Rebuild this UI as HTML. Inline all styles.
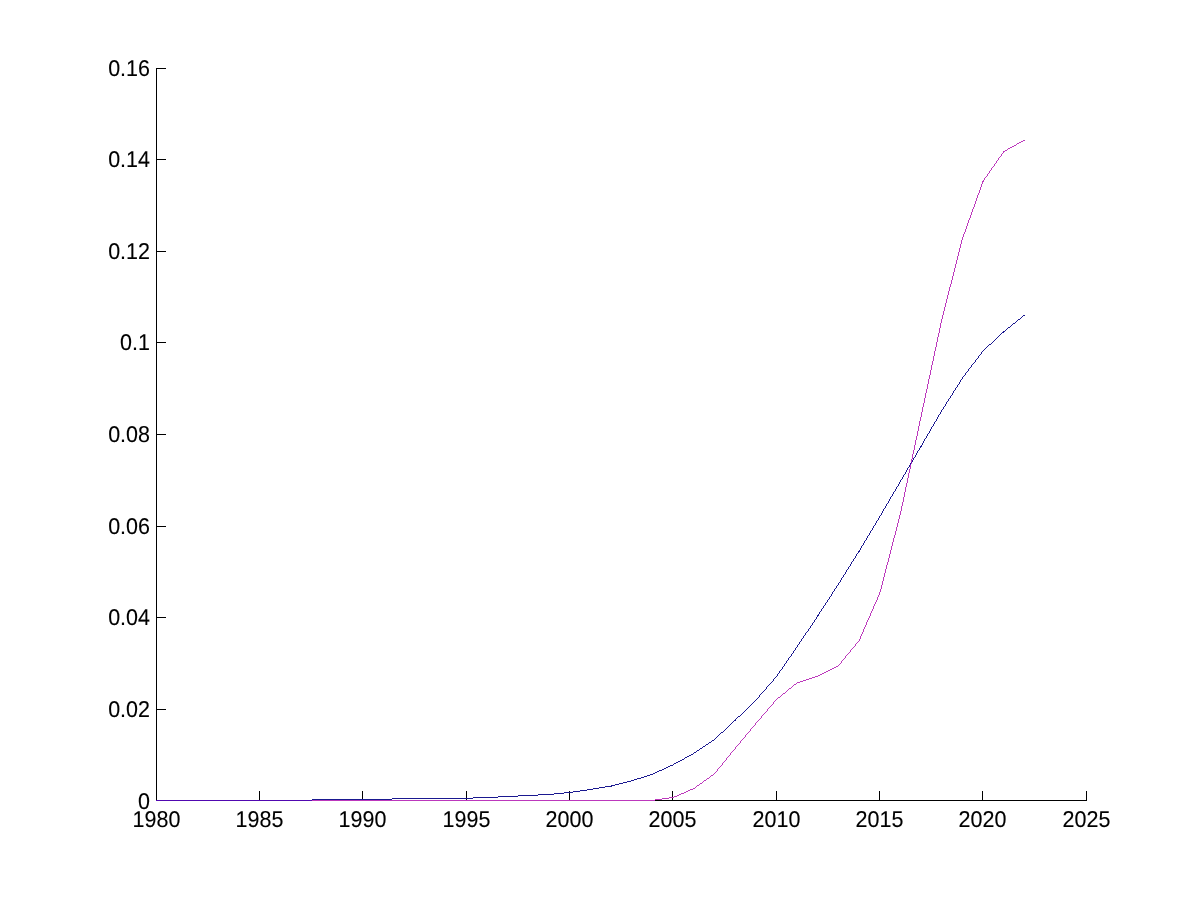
<!DOCTYPE html>
<html><head><meta charset="utf-8"><title>Plot</title>
<style>html,body{margin:0;padding:0;background:#fff;width:1200px;height:900px;overflow:hidden}svg{display:block;will-change:transform}</style>
</head><body>
<svg width="1200" height="900" viewBox="0 0 1200 900">
<rect width="1200" height="900" fill="#fff"/>
<g fill="#000" shape-rendering="crispEdges">
<rect x="156" y="68" width="1" height="733"/>
<rect x="156" y="800" width="931" height="1"/>
<rect x="157" y="800" width="9" height="1"/>
<rect x="157" y="709" width="9" height="1"/>
<rect x="157" y="617" width="9" height="1"/>
<rect x="157" y="526" width="9" height="1"/>
<rect x="157" y="434" width="9" height="1"/>
<rect x="157" y="342" width="9" height="1"/>
<rect x="157" y="251" width="9" height="1"/>
<rect x="157" y="159" width="9" height="1"/>
<rect x="157" y="68" width="9" height="1"/>
<rect x="156" y="791" width="1" height="9"/>
<rect x="259" y="791" width="1" height="9"/>
<rect x="362" y="791" width="1" height="9"/>
<rect x="466" y="791" width="1" height="9"/>
<rect x="569" y="791" width="1" height="9"/>
<rect x="672" y="791" width="1" height="9"/>
<rect x="776" y="791" width="1" height="9"/>
<rect x="879" y="791" width="1" height="9"/>
<rect x="982" y="791" width="1" height="9"/>
<rect x="1086" y="791" width="1" height="9"/>
</g>
<g shape-rendering="crispEdges">
<path fill="#1a1890" d="M1023 315h2v1h-2zM1022 316h1v1h-1zM1021 317h1v1h-1zM1020 318h1v1h-1zM1018 319h2v1h-2zM1017 320h1v1h-1zM1016 321h1v1h-1zM1015 322h1v1h-1zM1013 323h2v1h-2zM1012 324h1v1h-1zM1011 325h1v1h-1zM1010 326h1v1h-1zM1008 327h2v1h-2zM1007 328h1v1h-1zM1006 329h1v1h-1zM1005 330h1v1h-1zM1003 331h2v1h-2zM1002 332h2v1h-2zM1001 333h1v1h-1zM1000 334h1v1h-1zM999 335h1v1h-1zM998 336h1v1h-1zM997 337h1v1h-1zM996 338h1v1h-1zM995 339h1v1h-1zM994 340h1v1h-1zM993 341h1v1h-1zM992 342h1v1h-1zM991 343h1v1h-1zM989 344h2v1h-2zM988 345h1v1h-1zM987 346h1v1h-1zM986 347h1v1h-1zM985 348h1v1h-1zM984 349h1v1h-1zM983 350h1v1h-1zM982 351h1v1h-1zM981 352h1v1h-1zM981 353h1v1h-1zM980 354h1v1h-1zM979 355h1v1h-1zM978 356h1v1h-1zM978 357h1v1h-1zM977 358h1v1h-1zM976 359h1v1h-1zM975 360h1v1h-1zM975 361h1v1h-1zM974 362h1v1h-1zM973 363h1v1h-1zM972 364h1v1h-1zM971 365h1v1h-1zM971 366h1v1h-1zM970 367h1v1h-1zM969 368h1v1h-1zM968 369h1v1h-1zM968 370h1v1h-1zM967 371h1v1h-1zM966 372h1v1h-1zM965 373h1v1h-1zM965 374h1v1h-1zM964 375h1v1h-1zM963 376h1v1h-1zM962 377h1v1h-1zM962 378h1v1h-1zM961 379h1v1h-1zM960 380h1v1h-1zM960 381h1v1h-1zM959 382h1v1h-1zM959 383h1v1h-1zM958 384h1v1h-1zM957 385h1v1h-1zM957 386h1v1h-1zM956 387h1v1h-1zM955 388h1v1h-1zM955 389h1v1h-1zM954 390h1v1h-1zM953 391h1v1h-1zM953 392h1v1h-1zM952 393h1v1h-1zM952 394h1v1h-1zM951 395h1v1h-1zM950 396h1v1h-1zM950 397h1v1h-1zM949 398h1v1h-1zM948 399h1v1h-1zM948 400h1v1h-1zM947 401h1v1h-1zM946 402h1v1h-1zM946 403h1v1h-1zM945 404h1v1h-1zM945 405h1v1h-1zM944 406h1v1h-1zM943 407h1v1h-1zM943 408h1v1h-1zM942 409h1v1h-1zM941 410h1v1h-1zM941 411h1v1h-1zM940 412h1v1h-1zM940 413h1v1h-1zM939 414h1v1h-1zM938 415h1v1h-1zM938 416h1v1h-1zM937 417h1v1h-1zM937 418h1v1h-1zM936 419h1v1h-1zM936 420h1v1h-1zM935 421h1v1h-1zM934 422h1v1h-1zM934 423h1v1h-1zM933 424h1v1h-1zM933 425h1v1h-1zM932 426h1v1h-1zM931 427h1v1h-1zM931 428h1v1h-1zM930 429h1v1h-1zM930 430h1v1h-1zM929 431h1v1h-1zM929 432h1v1h-1zM928 433h1v1h-1zM927 434h1v1h-1zM927 435h1v1h-1zM926 436h1v1h-1zM926 437h1v1h-1zM925 438h1v1h-1zM924 439h1v1h-1zM924 440h1v1h-1zM923 441h1v1h-1zM923 442h1v1h-1zM922 443h1v1h-1zM922 444h1v1h-1zM921 445h1v1h-1zM920 446h2v1h-2zM920 447h1v1h-1zM919 448h1v1h-1zM919 449h1v1h-1zM918 450h1v1h-1zM917 451h1v1h-1zM917 452h1v1h-1zM916 453h1v1h-1zM916 454h1v1h-1zM915 455h1v1h-1zM915 456h1v1h-1zM914 457h1v1h-1zM913 458h1v1h-1zM913 459h1v1h-1zM912 460h1v1h-1zM912 461h1v1h-1zM910 463h1v1h-1zM909 465h1v1h-1zM909 466h1v1h-1zM908 467h1v1h-1zM907 468h1v1h-1zM907 469h1v1h-1zM906 470h1v1h-1zM906 471h1v1h-1zM905 472h1v1h-1zM905 473h1v1h-1zM904 474h1v1h-1zM903 475h1v1h-1zM903 476h1v1h-1zM902 477h1v1h-1zM902 478h1v1h-1zM901 479h1v1h-1zM900 480h1v1h-1zM900 481h1v1h-1zM899 482h1v1h-1zM899 483h1v1h-1zM898 484h1v1h-1zM898 485h1v1h-1zM897 486h1v1h-1zM896 487h1v1h-1zM896 488h1v1h-1zM895 489h1v1h-1zM895 490h1v1h-1zM894 491h1v1h-1zM893 492h1v1h-1zM893 493h1v1h-1zM892 494h1v1h-1zM892 495h1v1h-1zM891 496h1v1h-1zM890 497h1v1h-1zM890 498h1v1h-1zM889 499h1v1h-1zM889 500h1v1h-1zM888 501h1v1h-1zM888 502h1v1h-1zM887 503h1v1h-1zM886 504h1v1h-1zM886 505h1v1h-1zM885 506h1v1h-1zM885 507h1v1h-1zM884 508h1v1h-1zM883 509h1v1h-1zM883 510h1v1h-1zM882 511h1v1h-1zM882 512h1v1h-1zM881 513h1v1h-1zM881 514h1v1h-1zM880 515h1v1h-1zM879 516h1v1h-1zM879 517h1v1h-1zM878 518h1v1h-1zM878 519h1v1h-1zM877 520h1v1h-1zM876 521h1v1h-1zM876 522h1v1h-1zM875 523h1v1h-1zM875 524h1v1h-1zM874 525h1v1h-1zM873 526h1v1h-1zM873 527h1v1h-1zM872 528h1v1h-1zM872 529h1v1h-1zM871 530h1v1h-1zM870 531h1v1h-1zM870 532h1v1h-1zM869 533h1v1h-1zM869 534h1v1h-1zM868 535h1v1h-1zM867 536h1v1h-1zM867 537h1v1h-1zM866 538h1v1h-1zM866 539h1v1h-1zM865 540h1v1h-1zM864 541h1v1h-1zM864 542h1v1h-1zM863 543h1v1h-1zM863 544h1v1h-1zM862 545h1v1h-1zM861 546h1v1h-1zM861 547h1v1h-1zM860 548h1v1h-1zM860 549h1v1h-1zM859 550h1v1h-1zM858 551h2v1h-2zM858 552h1v1h-1zM857 553h1v1h-1zM856 554h1v1h-1zM856 555h1v1h-1zM855 556h1v1h-1zM855 557h1v1h-1zM854 558h1v1h-1zM853 559h1v1h-1zM853 560h1v1h-1zM852 561h1v1h-1zM851 562h1v1h-1zM851 563h1v1h-1zM850 564h1v1h-1zM850 565h1v1h-1zM849 566h1v1h-1zM848 567h1v1h-1zM848 568h1v1h-1zM847 569h1v1h-1zM846 570h1v1h-1zM846 571h1v1h-1zM845 572h1v1h-1zM845 573h1v1h-1zM844 574h1v1h-1zM843 575h1v1h-1zM843 576h1v1h-1zM842 577h1v1h-1zM841 578h1v1h-1zM841 579h1v1h-1zM840 580h1v1h-1zM840 581h1v1h-1zM839 582h1v1h-1zM838 583h1v1h-1zM838 584h1v1h-1zM837 585h1v1h-1zM836 586h1v1h-1zM836 587h1v1h-1zM835 588h1v1h-1zM834 589h1v1h-1zM834 590h1v1h-1zM833 591h1v1h-1zM832 592h1v1h-1zM832 593h1v1h-1zM831 594h1v1h-1zM831 595h1v1h-1zM830 596h1v1h-1zM829 597h1v1h-1zM829 598h1v1h-1zM828 599h1v1h-1zM827 600h1v1h-1zM827 601h1v1h-1zM826 602h1v1h-1zM825 603h1v1h-1zM825 604h1v1h-1zM824 605h1v1h-1zM823 606h1v1h-1zM823 607h1v1h-1zM822 608h1v1h-1zM821 609h1v1h-1zM821 610h1v1h-1zM820 611h1v1h-1zM819 612h1v1h-1zM819 613h1v1h-1zM818 614h1v1h-1zM817 615h2v1h-2zM817 616h1v1h-1zM816 617h1v1h-1zM816 618h1v1h-1zM815 619h1v1h-1zM814 620h1v1h-1zM814 621h1v1h-1zM813 622h1v1h-1zM812 623h1v1h-1zM812 624h1v1h-1zM811 625h1v1h-1zM810 626h1v1h-1zM810 627h1v1h-1zM809 628h1v1h-1zM808 629h1v1h-1zM808 630h1v1h-1zM807 631h1v1h-1zM806 632h1v1h-1zM805 633h1v1h-1zM805 634h1v1h-1zM804 635h1v1h-1zM803 636h1v1h-1zM803 637h1v1h-1zM802 638h1v1h-1zM801 639h1v1h-1zM801 640h1v1h-1zM800 641h1v1h-1zM799 642h1v1h-1zM799 643h1v1h-1zM798 644h1v1h-1zM797 645h1v1h-1zM797 646h1v1h-1zM796 647h1v1h-1zM795 648h1v1h-1zM795 649h1v1h-1zM794 650h1v1h-1zM793 651h1v1h-1zM793 652h1v1h-1zM792 653h1v1h-1zM791 654h1v1h-1zM791 655h1v1h-1zM790 656h1v1h-1zM789 657h1v1h-1zM788 658h1v1h-1zM788 659h1v1h-1zM787 660h1v1h-1zM786 661h1v1h-1zM786 662h1v1h-1zM785 663h1v1h-1zM784 664h1v1h-1zM784 665h1v1h-1zM783 666h1v1h-1zM782 667h1v1h-1zM782 668h1v1h-1zM781 669h1v1h-1zM780 670h1v1h-1zM779 671h1v1h-1zM779 672h1v1h-1zM778 673h1v1h-1zM777 674h1v1h-1zM777 675h1v1h-1zM776 676h1v1h-1zM775 677h1v1h-1zM774 678h1v1h-1zM773 679h1v1h-1zM773 680h1v1h-1zM772 681h1v1h-1zM771 682h1v1h-1zM770 683h1v1h-1zM769 684h1v1h-1zM768 685h1v1h-1zM767 686h1v1h-1zM766 687h1v1h-1zM766 688h1v1h-1zM765 689h1v1h-1zM764 690h1v1h-1zM763 691h1v1h-1zM762 692h1v1h-1zM761 693h1v1h-1zM760 694h1v1h-1zM759 695h1v1h-1zM759 696h1v1h-1zM758 697h1v1h-1zM757 698h1v1h-1zM756 699h1v1h-1zM755 700h1v1h-1zM754 701h1v1h-1zM753 702h1v1h-1zM752 703h1v1h-1zM751 704h1v1h-1zM750 705h1v1h-1zM749 706h1v1h-1zM748 707h1v1h-1zM747 708h1v1h-1zM746 709h1v1h-1zM745 710h1v1h-1zM744 711h1v1h-1zM743 712h1v1h-1zM742 713h1v1h-1zM741 714h1v1h-1zM740 715h1v1h-1zM738 716h2v1h-2zM737 717h1v1h-1zM736 718h1v1h-1zM735 719h1v1h-1zM734 720h2v1h-2zM733 721h1v1h-1zM732 722h1v1h-1zM731 723h1v1h-1zM730 724h1v1h-1zM729 725h1v1h-1zM728 726h1v1h-1zM727 727h1v1h-1zM726 728h1v1h-1zM725 729h1v1h-1zM724 730h1v1h-1zM723 731h1v1h-1zM721 732h2v1h-2zM720 733h1v1h-1zM719 734h1v1h-1zM718 735h1v1h-1zM717 736h1v1h-1zM716 737h1v1h-1zM715 738h1v1h-1zM714 739h1v1h-1zM712 740h2v1h-2zM711 741h1v1h-1zM709 742h2v1h-2zM708 743h1v1h-1zM706 744h2v1h-2zM705 745h1v1h-1zM703 746h2v1h-2zM702 747h1v1h-1zM700 748h2v1h-2zM699 749h1v1h-1zM697 750h2v1h-2zM696 751h1v1h-1zM694 752h2v1h-2zM693 753h1v1h-1zM691 754h2v1h-2zM689 755h2v1h-2zM687 756h2v1h-2zM685 757h2v1h-2zM684 758h1v1h-1zM682 759h2v1h-2zM680 760h2v1h-2zM678 761h2v1h-2zM676 762h2v1h-2zM674 763h2v1h-2zM673 764h1v1h-1zM670 765h3v1h-3zM668 766h2v1h-2zM666 767h2v1h-2zM664 768h2v1h-2zM662 769h2v1h-2zM659 770h3v1h-3zM657 771h2v1h-2zM655 772h2v1h-2zM653 773h2v1h-2zM650 774h3v1h-3zM647 775h3v1h-3zM644 776h3v1h-3zM641 777h3v1h-3zM637 778h4v1h-4zM634 779h3v1h-3zM631 780h3v1h-3zM627 781h4v1h-4zM623 782h4v1h-4zM619 783h4v1h-4zM615 784h4v1h-4zM611 785h4v1h-4zM605 786h7v1h-7zM599 787h6v1h-6zM593 788h6v1h-6zM587 789h6v1h-6zM580 790h7v1h-7zM573 791h7v1h-7zM564 792h9v1h-9zM554 793h10v1h-10zM538 794h16v1h-16zM518 795h20v1h-20zM498 796h20v1h-20zM473 797h25v1h-25zM392 798h81v1h-81zM312 799h80v1h-80z"/>
<path fill="#bc38bc" d="M1023 140h2v1h-2zM1021 141h2v1h-2zM1019 142h2v1h-2zM1017 143h2v1h-2zM1016 144h1v1h-1zM1014 145h2v1h-2zM1012 146h2v1h-2zM1010 147h2v1h-2zM1008 148h2v1h-2zM1007 149h1v1h-1zM1005 150h2v1h-2zM1003 151h2v1h-2zM1003 152h1v1h-1zM1002 153h1v1h-1zM1001 154h1v1h-1zM1001 155h1v1h-1zM1000 156h1v1h-1zM999 157h1v1h-1zM998 158h1v1h-1zM998 159h1v1h-1zM997 160h1v1h-1zM996 161h1v1h-1zM996 162h1v1h-1zM995 163h1v1h-1zM994 164h1v1h-1zM994 165h1v1h-1zM993 166h1v1h-1zM992 167h1v1h-1zM991 168h1v1h-1zM991 169h1v1h-1zM990 170h1v1h-1zM989 171h1v1h-1zM989 172h1v1h-1zM988 173h1v1h-1zM987 174h1v1h-1zM987 175h1v1h-1zM986 176h1v1h-1zM985 177h1v1h-1zM984 178h1v1h-1zM984 179h1v1h-1zM983 180h1v1h-1zM982 181h2v1h-2zM982 182h1v1h-1zM982 183h1v1h-1zM981 184h1v1h-1zM981 185h1v1h-1zM981 186h1v1h-1zM980 187h1v1h-1zM980 188h1v1h-1zM980 189h1v1h-1zM979 190h1v1h-1zM979 191h1v1h-1zM979 192h1v1h-1zM978 193h1v1h-1zM978 194h1v1h-1zM977 195h1v1h-1zM977 196h1v1h-1zM977 197h1v1h-1zM976 198h1v1h-1zM976 199h1v1h-1zM976 200h1v1h-1zM975 201h1v1h-1zM975 202h1v1h-1zM975 203h1v1h-1zM974 204h1v1h-1zM974 205h1v1h-1zM974 206h1v1h-1zM973 207h1v1h-1zM973 208h1v1h-1zM972 209h1v1h-1zM972 210h1v1h-1zM972 211h1v1h-1zM971 212h1v1h-1zM971 213h1v1h-1zM971 214h1v1h-1zM970 215h1v1h-1zM970 216h1v1h-1zM970 217h1v1h-1zM969 218h1v1h-1zM969 219h1v1h-1zM968 220h1v1h-1zM968 221h1v1h-1zM968 222h1v1h-1zM967 223h1v1h-1zM967 224h1v1h-1zM967 225h1v1h-1zM966 226h1v1h-1zM966 227h1v1h-1zM966 228h1v1h-1zM965 229h1v1h-1zM965 230h1v1h-1zM965 231h1v1h-1zM964 232h1v1h-1zM964 233h1v1h-1zM963 234h1v1h-1zM963 235h1v1h-1zM963 236h1v1h-1zM962 237h1v1h-1zM962 238h1v1h-1zM962 239h1v1h-1zM961 240h1v1h-1zM961 241h1v1h-1zM961 242h1v1h-1zM961 243h1v1h-1zM960 244h1v1h-1zM960 245h1v1h-1zM960 246h1v1h-1zM960 247h1v1h-1zM959 248h1v1h-1zM959 249h1v1h-1zM959 250h1v1h-1zM959 251h1v1h-1zM958 252h1v1h-1zM958 253h1v1h-1zM958 254h1v1h-1zM958 255h1v1h-1zM957 256h1v1h-1zM957 257h1v1h-1zM957 258h1v1h-1zM957 259h1v1h-1zM956 260h1v1h-1zM956 261h1v1h-1zM956 262h1v1h-1zM956 263h1v1h-1zM955 264h1v1h-1zM955 265h1v1h-1zM955 266h1v1h-1zM955 267h1v1h-1zM954 268h1v1h-1zM954 269h1v1h-1zM954 270h1v1h-1zM954 271h1v1h-1zM953 272h1v1h-1zM953 273h1v1h-1zM953 274h1v1h-1zM953 275h1v1h-1zM952 276h1v1h-1zM952 277h1v1h-1zM952 278h1v1h-1zM952 279h1v1h-1zM951 280h1v1h-1zM951 281h1v1h-1zM951 282h1v1h-1zM951 283h1v1h-1zM950 284h1v1h-1zM950 285h1v1h-1zM950 286h1v1h-1zM949 287h1v1h-1zM949 288h1v1h-1zM949 289h1v1h-1zM949 290h1v1h-1zM948 291h1v1h-1zM948 292h1v1h-1zM948 293h1v1h-1zM948 294h1v1h-1zM947 295h1v1h-1zM947 296h1v1h-1zM947 297h1v1h-1zM947 298h1v1h-1zM946 299h1v1h-1zM946 300h1v1h-1zM946 301h1v1h-1zM946 302h1v1h-1zM945 303h1v1h-1zM945 304h1v1h-1zM945 305h1v1h-1zM945 306h1v1h-1zM944 307h1v1h-1zM944 308h1v1h-1zM944 309h1v1h-1zM944 310h1v1h-1zM943 311h1v1h-1zM943 312h1v1h-1zM943 313h1v1h-1zM943 314h1v1h-1zM942 315h1v1h-1zM942 316h1v1h-1zM942 317h1v1h-1zM942 318h1v1h-1zM941 319h1v1h-1zM941 320h1v1h-1zM941 321h1v1h-1zM941 322h1v1h-1zM940 323h1v1h-1zM940 324h1v1h-1zM940 325h1v1h-1zM940 326h1v1h-1zM940 327h1v1h-1zM939 328h1v1h-1zM939 329h1v1h-1zM939 330h1v1h-1zM939 331h1v1h-1zM939 332h1v1h-1zM938 333h1v1h-1zM938 334h1v1h-1zM938 335h1v1h-1zM938 336h1v1h-1zM937 337h1v1h-1zM937 338h1v1h-1zM937 339h1v1h-1zM937 340h1v1h-1zM937 341h1v1h-1zM936 342h1v1h-1zM936 343h1v1h-1zM936 344h1v1h-1zM936 345h1v1h-1zM936 346h1v1h-1zM935 347h1v1h-1zM935 348h1v1h-1zM935 349h1v1h-1zM935 350h1v1h-1zM934 351h1v1h-1zM934 352h1v1h-1zM934 353h1v1h-1zM934 354h1v1h-1zM934 355h1v1h-1zM933 356h1v1h-1zM933 357h1v1h-1zM933 358h1v1h-1zM933 359h1v1h-1zM933 360h1v1h-1zM932 361h1v1h-1zM932 362h1v1h-1zM932 363h1v1h-1zM932 364h1v1h-1zM931 365h1v1h-1zM931 366h1v1h-1zM931 367h1v1h-1zM931 368h1v1h-1zM931 369h1v1h-1zM930 370h1v1h-1zM930 371h1v1h-1zM930 372h1v1h-1zM930 373h1v1h-1zM930 374h1v1h-1zM929 375h1v1h-1zM929 376h1v1h-1zM929 377h1v1h-1zM929 378h1v1h-1zM928 379h1v1h-1zM928 380h1v1h-1zM928 381h1v1h-1zM928 382h1v1h-1zM928 383h1v1h-1zM927 384h1v1h-1zM927 385h1v1h-1zM927 386h1v1h-1zM927 387h1v1h-1zM927 388h1v1h-1zM926 389h1v1h-1zM926 390h1v1h-1zM926 391h1v1h-1zM926 392h1v1h-1zM925 393h1v1h-1zM925 394h1v1h-1zM925 395h1v1h-1zM925 396h1v1h-1zM925 397h1v1h-1zM924 398h1v1h-1zM924 399h1v1h-1zM924 400h1v1h-1zM924 401h1v1h-1zM924 402h1v1h-1zM923 403h1v1h-1zM923 404h1v1h-1zM923 405h1v1h-1zM923 406h1v1h-1zM922 407h1v1h-1zM922 408h1v1h-1zM922 409h1v1h-1zM922 410h1v1h-1zM922 411h1v1h-1zM921 412h1v1h-1zM921 413h1v1h-1zM921 414h1v1h-1zM921 415h1v1h-1zM921 416h1v1h-1zM920 417h1v1h-1zM920 418h1v1h-1zM920 419h1v1h-1zM920 420h1v1h-1zM919 421h1v1h-1zM919 422h1v1h-1zM919 423h1v1h-1zM919 424h1v1h-1zM919 425h1v1h-1zM918 426h1v1h-1zM918 427h1v1h-1zM918 428h1v1h-1zM918 429h1v1h-1zM918 430h1v1h-1zM917 431h1v1h-1zM917 432h1v1h-1zM917 433h1v1h-1zM917 434h1v1h-1zM917 435h1v1h-1zM916 436h1v1h-1zM916 437h1v1h-1zM916 438h1v1h-1zM916 439h1v1h-1zM915 440h1v1h-1zM915 441h1v1h-1zM915 442h1v1h-1zM915 443h1v1h-1zM915 444h1v1h-1zM914 445h1v1h-1zM914 446h1v1h-1zM914 447h1v1h-1zM914 448h1v1h-1zM914 449h1v1h-1zM913 450h1v1h-1zM913 451h1v1h-1zM913 452h1v1h-1zM913 453h1v1h-1zM912 454h1v1h-1zM912 455h1v1h-1zM912 456h1v1h-1zM912 457h1v1h-1zM912 458h1v1h-1zM911 459h1v1h-1zM911 460h1v1h-1zM911 461h1v1h-1zM911 463h1v1h-1zM910 465h1v1h-1zM910 466h1v1h-1zM910 467h1v1h-1zM910 468h1v1h-1zM909 469h1v1h-1zM909 470h1v1h-1zM909 471h1v1h-1zM909 472h1v1h-1zM908 473h1v1h-1zM908 474h1v1h-1zM908 475h1v1h-1zM908 476h1v1h-1zM908 477h1v1h-1zM907 478h1v1h-1zM907 479h1v1h-1zM907 480h1v1h-1zM907 481h1v1h-1zM907 482h1v1h-1zM906 483h1v1h-1zM906 484h1v1h-1zM906 485h1v1h-1zM906 486h1v1h-1zM905 487h1v1h-1zM905 488h1v1h-1zM905 489h1v1h-1zM905 490h1v1h-1zM905 491h1v1h-1zM904 492h1v1h-1zM904 493h1v1h-1zM904 494h1v1h-1zM904 495h1v1h-1zM904 496h1v1h-1zM903 497h1v1h-1zM903 498h1v1h-1zM903 499h1v1h-1zM903 500h1v1h-1zM903 501h1v1h-1zM902 502h1v1h-1zM902 503h1v1h-1zM902 504h1v1h-1zM902 505h1v1h-1zM901 506h1v1h-1zM901 507h1v1h-1zM901 508h1v1h-1zM901 509h1v1h-1zM901 510h1v1h-1zM900 511h1v1h-1zM900 512h1v1h-1zM900 513h1v1h-1zM900 514h1v1h-1zM899 515h1v1h-1zM899 516h1v1h-1zM899 517h1v1h-1zM899 518h1v1h-1zM898 519h1v1h-1zM898 520h1v1h-1zM898 521h1v1h-1zM898 522h1v1h-1zM897 523h1v1h-1zM897 524h1v1h-1zM897 525h1v1h-1zM897 526h1v1h-1zM896 527h1v1h-1zM896 528h1v1h-1zM896 529h1v1h-1zM896 530h1v1h-1zM895 531h1v1h-1zM895 532h1v1h-1zM895 533h1v1h-1zM895 534h1v1h-1zM894 535h1v1h-1zM894 536h1v1h-1zM894 537h1v1h-1zM893 538h1v1h-1zM893 539h1v1h-1zM893 540h1v1h-1zM893 541h1v1h-1zM892 542h1v1h-1zM892 543h1v1h-1zM892 544h1v1h-1zM892 545h1v1h-1zM891 546h1v1h-1zM891 547h1v1h-1zM891 548h1v1h-1zM891 549h1v1h-1zM890 550h1v1h-1zM890 551h1v1h-1zM890 552h1v1h-1zM890 553h1v1h-1zM889 554h1v1h-1zM889 555h1v1h-1zM889 556h1v1h-1zM889 557h1v1h-1zM888 558h1v1h-1zM888 559h1v1h-1zM888 560h1v1h-1zM888 561h1v1h-1zM887 562h1v1h-1zM887 563h1v1h-1zM887 564h1v1h-1zM886 565h1v1h-1zM886 566h1v1h-1zM886 567h1v1h-1zM886 568h1v1h-1zM885 569h1v1h-1zM885 570h1v1h-1zM885 571h1v1h-1zM885 572h1v1h-1zM884 573h1v1h-1zM884 574h1v1h-1zM884 575h1v1h-1zM884 576h1v1h-1zM883 577h1v1h-1zM883 578h1v1h-1zM883 579h1v1h-1zM883 580h1v1h-1zM882 581h1v1h-1zM882 582h1v1h-1zM882 583h1v1h-1zM882 584h1v1h-1zM881 585h1v1h-1zM881 586h1v1h-1zM881 587h1v1h-1zM881 588h1v1h-1zM880 589h1v1h-1zM880 590h1v1h-1zM880 591h1v1h-1zM879 592h1v1h-1zM879 593h1v1h-1zM879 594h1v1h-1zM878 595h1v1h-1zM878 596h1v1h-1zM877 597h1v1h-1zM877 598h1v1h-1zM877 599h1v1h-1zM876 600h1v1h-1zM876 601h1v1h-1zM875 602h1v1h-1zM875 603h1v1h-1zM874 604h1v1h-1zM874 605h1v1h-1zM873 606h1v1h-1zM873 607h1v1h-1zM873 608h1v1h-1zM872 609h1v1h-1zM872 610h1v1h-1zM871 611h1v1h-1zM871 612h1v1h-1zM870 613h1v1h-1zM870 614h1v1h-1zM870 615h1v1h-1zM869 616h1v1h-1zM869 617h1v1h-1zM868 618h1v1h-1zM868 619h1v1h-1zM867 620h1v1h-1zM867 621h1v1h-1zM866 622h1v1h-1zM866 623h1v1h-1zM866 624h1v1h-1zM865 625h1v1h-1zM865 626h1v1h-1zM864 627h1v1h-1zM864 628h1v1h-1zM863 629h1v1h-1zM863 630h1v1h-1zM863 631h1v1h-1zM862 632h1v1h-1zM862 633h1v1h-1zM861 634h1v1h-1zM861 635h1v1h-1zM860 636h1v1h-1zM860 637h1v1h-1zM860 638h1v1h-1zM859 639h1v1h-1zM859 640h1v1h-1zM858 641h1v1h-1zM857 642h1v1h-1zM856 643h1v1h-1zM855 644h1v1h-1zM855 645h1v1h-1zM854 646h1v1h-1zM853 647h1v1h-1zM852 648h1v1h-1zM851 649h1v1h-1zM850 650h1v1h-1zM850 651h1v1h-1zM849 652h1v1h-1zM848 653h1v1h-1zM847 654h1v1h-1zM846 655h1v1h-1zM845 656h1v1h-1zM845 657h1v1h-1zM844 658h1v1h-1zM843 659h1v1h-1zM842 660h1v1h-1zM841 661h1v1h-1zM841 662h1v1h-1zM840 663h1v1h-1zM839 664h1v1h-1zM838 665h1v1h-1zM836 666h2v1h-2zM834 667h2v1h-2zM832 668h2v1h-2zM830 669h2v1h-2zM828 670h2v1h-2zM826 671h2v1h-2zM824 672h2v1h-2zM822 673h2v1h-2zM820 674h2v1h-2zM818 675h2v1h-2zM815 676h3v1h-3zM812 677h3v1h-3zM809 678h3v1h-3zM806 679h3v1h-3zM803 680h3v1h-3zM800 681h3v1h-3zM797 682h3v1h-3zM796 683h1v1h-1zM794 684h2v1h-2zM793 685h1v1h-1zM792 686h1v1h-1zM791 687h1v1h-1zM789 688h2v1h-2zM788 689h1v1h-1zM787 690h1v1h-1zM786 691h1v1h-1zM785 692h1v1h-1zM783 693h2v1h-2zM782 694h1v1h-1zM781 695h1v1h-1zM780 696h1v1h-1zM778 697h2v1h-2zM777 698h1v1h-1zM776 699h1v1h-1zM775 700h1v1h-1zM774 701h1v1h-1zM773 702h1v1h-1zM773 703h1v1h-1zM772 704h1v1h-1zM771 705h1v1h-1zM770 706h1v1h-1zM769 707h1v1h-1zM768 708h1v1h-1zM767 709h1v1h-1zM767 710h1v1h-1zM766 711h1v1h-1zM765 712h1v1h-1zM764 713h1v1h-1zM763 714h1v1h-1zM762 715h1v1h-1zM761 716h1v1h-1zM761 717h1v1h-1zM760 718h1v1h-1zM759 719h1v1h-1zM758 720h1v1h-1zM757 721h1v1h-1zM756 722h1v1h-1zM755 723h1v1h-1zM755 724h1v1h-1zM754 725h1v1h-1zM753 726h1v1h-1zM752 727h1v1h-1zM751 728h1v1h-1zM750 729h1v1h-1zM750 730h1v1h-1zM749 731h1v1h-1zM748 732h1v1h-1zM747 733h1v1h-1zM746 734h1v1h-1zM745 735h1v1h-1zM745 736h1v1h-1zM744 737h1v1h-1zM743 738h1v1h-1zM742 739h1v1h-1zM741 740h1v1h-1zM740 741h1v1h-1zM740 742h1v1h-1zM739 743h1v1h-1zM738 744h1v1h-1zM737 745h1v1h-1zM736 746h1v1h-1zM735 747h1v1h-1zM735 748h1v1h-1zM734 749h1v1h-1zM733 750h1v1h-1zM732 751h1v1h-1zM731 752h1v1h-1zM730 753h1v1h-1zM730 754h1v1h-1zM729 755h1v1h-1zM728 756h1v1h-1zM727 757h1v1h-1zM726 758h1v1h-1zM726 759h1v1h-1zM725 760h1v1h-1zM724 761h1v1h-1zM723 762h1v1h-1zM722 763h1v1h-1zM722 764h1v1h-1zM721 765h1v1h-1zM720 766h1v1h-1zM719 767h1v1h-1zM718 768h1v1h-1zM717 769h1v1h-1zM717 770h1v1h-1zM716 771h1v1h-1zM715 772h1v1h-1zM714 773h1v1h-1zM713 774h1v1h-1zM711 775h2v1h-2zM710 776h1v1h-1zM709 777h1v1h-1zM707 778h2v1h-2zM706 779h1v1h-1zM704 780h2v1h-2zM703 781h1v1h-1zM702 782h1v1h-1zM700 783h2v1h-2zM699 784h1v1h-1zM697 785h2v1h-2zM696 786h1v1h-1zM695 787h1v1h-1zM693 788h2v1h-2zM690 789h3v1h-3zM688 790h2v1h-2zM686 791h2v1h-2zM684 792h2v1h-2zM681 793h3v1h-3zM679 794h2v1h-2zM677 795h2v1h-2zM674 796h3v1h-3zM669 797h5v1h-5zM662 798h7v1h-7zM655 799h7v1h-7zM312 800h343v1h-343z"/>
<path fill="#5008b0" d="M911 462h1v1h-1zM910 464h1v1h-1zM156 800h156v1h-156z"/>
</g>
<g font-family="'Liberation Sans', Arial, Helvetica, sans-serif" font-size="21.5" fill="#000" text-rendering="geometricPrecision" stroke="#000" stroke-width="0.1">
<text transform="translate(150 808.75) scale(1 1.067)" text-anchor="end">0</text>
<text transform="translate(150 716.75) scale(1 1.067)" text-anchor="end">0.02</text>
<text transform="translate(150 624.75) scale(1 1.067)" text-anchor="end">0.04</text>
<text transform="translate(150 533.75) scale(1 1.067)" text-anchor="end">0.06</text>
<text transform="translate(150 441.75) scale(1 1.067)" text-anchor="end">0.08</text>
<text transform="translate(150 349.75) scale(1 1.067)" text-anchor="end">0.1</text>
<text transform="translate(150 258.75) scale(1 1.067)" text-anchor="end">0.12</text>
<text transform="translate(150 166.75) scale(1 1.067)" text-anchor="end">0.14</text>
<text transform="translate(150 75.75) scale(1 1.067)" text-anchor="end">0.16</text>
<text transform="translate(156.5 826.75) scale(1 1.067)" text-anchor="middle">1980</text>
<text transform="translate(259.5 826.75) scale(1 1.067)" text-anchor="middle">1985</text>
<text transform="translate(362.5 826.75) scale(1 1.067)" text-anchor="middle">1990</text>
<text transform="translate(466.5 826.75) scale(1 1.067)" text-anchor="middle">1995</text>
<text transform="translate(569.5 826.75) scale(1 1.067)" text-anchor="middle">2000</text>
<text transform="translate(672.5 826.75) scale(1 1.067)" text-anchor="middle">2005</text>
<text transform="translate(776.5 826.75) scale(1 1.067)" text-anchor="middle">2010</text>
<text transform="translate(879.5 826.75) scale(1 1.067)" text-anchor="middle">2015</text>
<text transform="translate(982.5 826.75) scale(1 1.067)" text-anchor="middle">2020</text>
<text transform="translate(1086.5 826.75) scale(1 1.067)" text-anchor="middle">2025</text>
</g>
</svg>
</body></html>
